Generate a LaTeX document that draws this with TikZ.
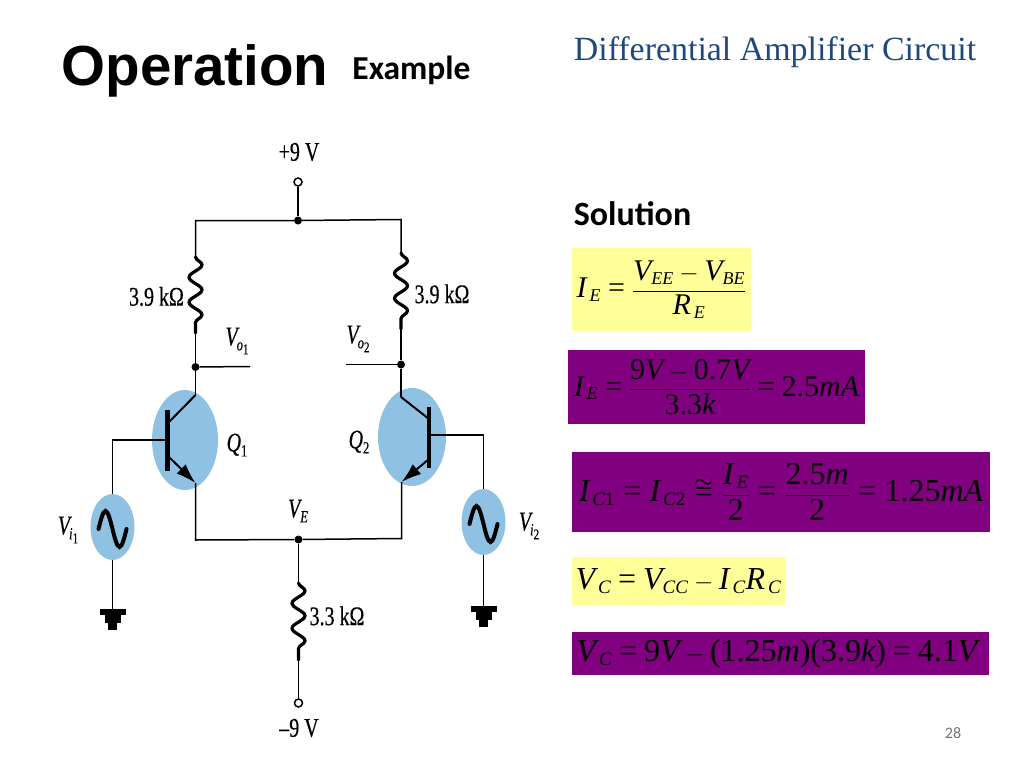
\documentclass[tikz,border=0pt]{standalone}
\usepackage{amsmath}
\usepackage[no-math]{fontspec}
\setmainfont{Liberation Serif}
\newfontfamily\headfont{Liberation Sans}
\newfontfamily\calfont{Carlito}
\newfontfamily\eqfont{Liberation Serif}[NFSSFamily=eqf]
\newfontfamily\labfont{Liberation Serif}[FakeStretch=0.74,FakeBold=0.4]
\DeclareSymbolFont{letters}{TU}{eqf}{m}{it}
\DeclareSymbolFont{operators}{TU}{eqf}{m}{n}
\DeclareMathSizes{30}{30}{18}{14}
\DeclareMathSizes{32}{32}{19}{15}
\mathcode`\.="702E
\usetikzlibrary{arrows.meta,decorations.pathmorphing,shapes.geometric}
\definecolor{blobblue}{HTML}{8FC1E3}
\definecolor{eqyellow}{HTML}{FFFF99}
\definecolor{eqpurple}{HTML}{800080}
\definecolor{subtitleblue}{HTML}{1F497D}
% V with a subscript that has its own subscript
\newcommand{\twosub}[3]{{\itshape #1}\kern-1pt\raisebox{-5pt}{\fontsize{17}{18}\selectfont\itshape #2}\raisebox{-9pt}{\fontsize{15}{16}\selectfont #3}}
\newcommand{\onesub}[2]{{\itshape #1}\raisebox{-5pt}{\fontsize{17}{18}\selectfont #2}}
\newcommand{\wrel}[1]{\mkern1mu #1\mkern1mu}
\tikzset{
	wire/.style     = {line width=1.5pt},
	resistor/.style = {line width=3.2pt, line cap=round, decorate,
		decoration={snake, segment length=25pt, amplitude=6.5pt}},
	blob/.style     = {shape=ellipse, fill=blobblue, inner sep=0pt},
	dot/.style      = {circle, fill=black, inner sep=0pt, minimum size=8pt},
	terminal/.style = {circle, draw, line width=1.5pt, fill=white, inner sep=0pt, minimum size=8pt},
	bar/.style      = {line width=4.5pt},
	lead/.style     = {line width=2pt},
	emitarrow/.style= {lead, -{Latex[length=20pt,width=13pt]}},
	acwave/.style   = {line width=4pt, line cap=round},
	lab/.style      = {font=\labfont\fontsize{27}{29}\selectfont, inner sep=0pt},
	eqbox/.style    = {shape=rectangle, inner sep=0pt, text=black,
		font=\eqfont\fontsize{30}{32}\selectfont},
	bigeq/.style    = {font=\eqfont\fontsize{32}{34}\selectfont},
	yellowbox/.style= {eqbox, fill=eqyellow},
	purplebox/.style= {eqbox, fill=eqpurple}
}
\begin{document}
\begin{tikzpicture}[x=1pt, y=-1pt]
	\useasboundingbox (0,0) rectangle (1024,768);
	% headings
	\node [inner sep=0pt, font=\headfont\bfseries\fontsize{56.5}{60}\selectfont] (title) at (195,71) {Operation};
	\node [inner sep=0pt, font=\calfont\bfseries\fontsize{33.5}{36}\selectfont] (example) at (411.5,70) {Example};
	\node [inner sep=0pt, text=subtitleblue, font=\fontsize{33.9}{36}\selectfont] (subtitle) at (775,52) {Differential Amplifier Circuit};
	\node [inner sep=0pt, font=\calfont\bfseries\fontsize{34}{36}\selectfont] (solution) at (632.5,214) {Solution};
	\node [inner sep=0pt, text=black!55, font=\calfont\fontsize{16}{18}\selectfont] (pagenum) at (953,733) {28};

	% blue patches behind the parts
	\node [blob, minimum width=66pt, minimum height=100pt] (q1) at (185,440) {};
	\node [blob, minimum width=68pt, minimum height=98pt] (q2) at (412,437) {};
	\node [blob, minimum width=44pt, minimum height=66pt] (srcL) at (112.5,527) {};
	\node [blob, minimum width=44pt, minimum height=66pt] (srcR) at (483.5,522) {};

	% supply and collector side
	\node [terminal] (vcc) at (298,182) {};
	\node [dot] (vccj) at (298,220.5) {};
	\coordinate (topL) at (195.5,220.5);
	\coordinate (topR) at (401,219.5);
	\coordinate (r1a) at (195.5,257);
	\coordinate (r1b) at (195.5,333);
	\coordinate (r2a) at (401,253);
	\coordinate (r2b) at (401,329);
	\node [dot] (o1) at (195.5,367) {};
	\node [dot] (o2) at (401,364.5) {};
	\coordinate (o1end) at (250,366.5);
	\coordinate (o2end) at (346,364.5);
	\coordinate (colL) at (195.5,395);
	\coordinate (colR) at (401,397);
	\draw [wire] (vcc) -- (vccj);
	\draw [wire] (r1a) -- (topL) -- (vccj) -- (topR) -- (r2a);
	\draw [resistor] (r1a) -- (r1b);
	\draw [resistor] (r2a) -- (r2b);
	\draw [wire] (r1b) -- (o1) -- (colL);
	\draw [wire] (r2b) -- (o2) -- (colR);
	\draw [wire] (o1) -- (o1end);
	\draw [wire] (o2) -- (o2end);

	% the two transistors
	\coordinate (barLa) at (167.5,410);
	\coordinate (barLb) at (167.5,471);
	\coordinate (barRa) at (429,407);
	\coordinate (barRb) at (429,468);
	\coordinate (colLb) at (168,423);
	\coordinate (colRb) at (429,419);
	\coordinate (emLa) at (168,456);
	\coordinate (emL) at (195.5,483);
	\coordinate (emRa) at (429,459);
	\coordinate (emR) at (401.5,482);
	\coordinate (baseL) at (167.5,440);
	\coordinate (baseR) at (429,435);
	\draw [bar] (barLa) -- (barLb);
	\draw [bar] (barRa) -- (barRb);
	\draw [lead] (colL) -- (colLb);
	\draw [lead] (colR) -- (colRb);
	\draw [emitarrow] (emLa) -- (emL);
	\draw [emitarrow] (emRa) -- (emR);

	% input sources and ground symbols
	\coordinate (inL) at (112.5,440);
	\coordinate (inR) at (483.5,435);
	\coordinate (gndL) at (112.5,609);
	\coordinate (gndR) at (483.5,606);
	\draw [wire] (baseL) -- (inL) -- (srcL);
	\draw [wire] (baseR) -- (inR) -- (srcR);
	\draw [wire] (srcL) -- (gndL);
	\draw [wire] (srcR) -- (gndR);
	\foreach \src in {srcL,srcR}
		\draw [acwave] (\src) ++(-14,2) sin ++(7,-18) cos ++(7,18) sin ++(7,18) cos ++(7,-18);
	\foreach \gnd in {gndL,gndR} {
		\fill (\gnd) ++(-13,0) rectangle ++(26,6);
		\fill (\gnd) ++(-8,6) rectangle ++(16,8);
		\fill (\gnd) ++(-4.5,14) rectangle ++(9,7);
	}

	% emitter side
	\node [dot] (ve) at (298.5,539.5) {};
	\coordinate (botL) at (195.5,540);
	\coordinate (botR) at (401.5,538.5);
	\coordinate (r3a) at (298.5,583);
	\coordinate (r3b) at (298.5,660);
	\node [terminal] (vee) at (298.5,703) {};
	\draw [wire] (emL) -- (botL) -- (ve) -- (botR) -- (emR);
	\draw [wire] (ve) -- (r3a);
	\draw [resistor] (r3a) -- (r3b);
	\draw [wire] (r3b) -- (vee);

	% circuit labels
	\node [lab] (l9p) at (299,152) {+9 V};
	\node [lab] (l9m) at (299,728) {–9 V};
	\node [lab] (lr1) at (156.5,296.5) {3.9 kΩ};
	\node [lab] (lr2) at (442,294) {3.9 kΩ};
	\node [lab] (lr3) at (337,616) {3.3 kΩ};
	\node [lab] (lo1) at (237,341) {\twosub{V}{o}{1}};
	\node [lab] (lo2) at (358,339) {\twosub{V}{o}{2}};
	\node [lab] (lq1) at (237,445) {\onesub{\itshape Q}{1}};
	\node [lab] (lq2) at (359,442) {\onesub{\itshape Q}{2}};
	\node [lab] (lve) at (298,511) {\onesub{V}{\itshape E}};
	\node [lab] (li1) at (68,530) {\twosub{V}{i}{1}};
	\node [lab] (li2) at (529,526) {\twosub{V}{i}{2}};

	% solution steps
	\node [yellowbox, minimum width=179pt, minimum height=83pt] (eqa) at (661.5,289.5)
		{$I_{\,E} = \dfrac{V_{EE} - V_{BE}}{R_{\,E}}$};
	\node [purplebox, minimum width=297pt, minimum height=74pt] (eqb) at (716.5,387)
		{$I_{\,E} = \dfrac{9V - 0.7V}{3.3k} = 2.5mA$};
	\node [purplebox, bigeq, minimum width=418pt, minimum height=80pt] (eqc) at (781,492)
		{$I_{\,C1} \wrel{=} I_{\,C2} \wrel{\cong} \dfrac{I_{\,E}}{2} \wrel{=} \dfrac{2.5m}{2} \wrel{=} 1.25mA$};
	\node [yellowbox, bigeq, minimum width=213pt, minimum height=48pt] (eqd) at (678.5,581)
		{$V_{\,C} = V_{CC} - I_{\,C}R_{\,C}$};
	\node [purplebox, bigeq, minimum width=417pt, minimum height=43pt] (eqe) at (780.5,653.5)
		{$V_{\,C} = 9V - (1.25m)(3.9k) = 4.1V$\kern7pt};
\end{tikzpicture}
\end{document}
